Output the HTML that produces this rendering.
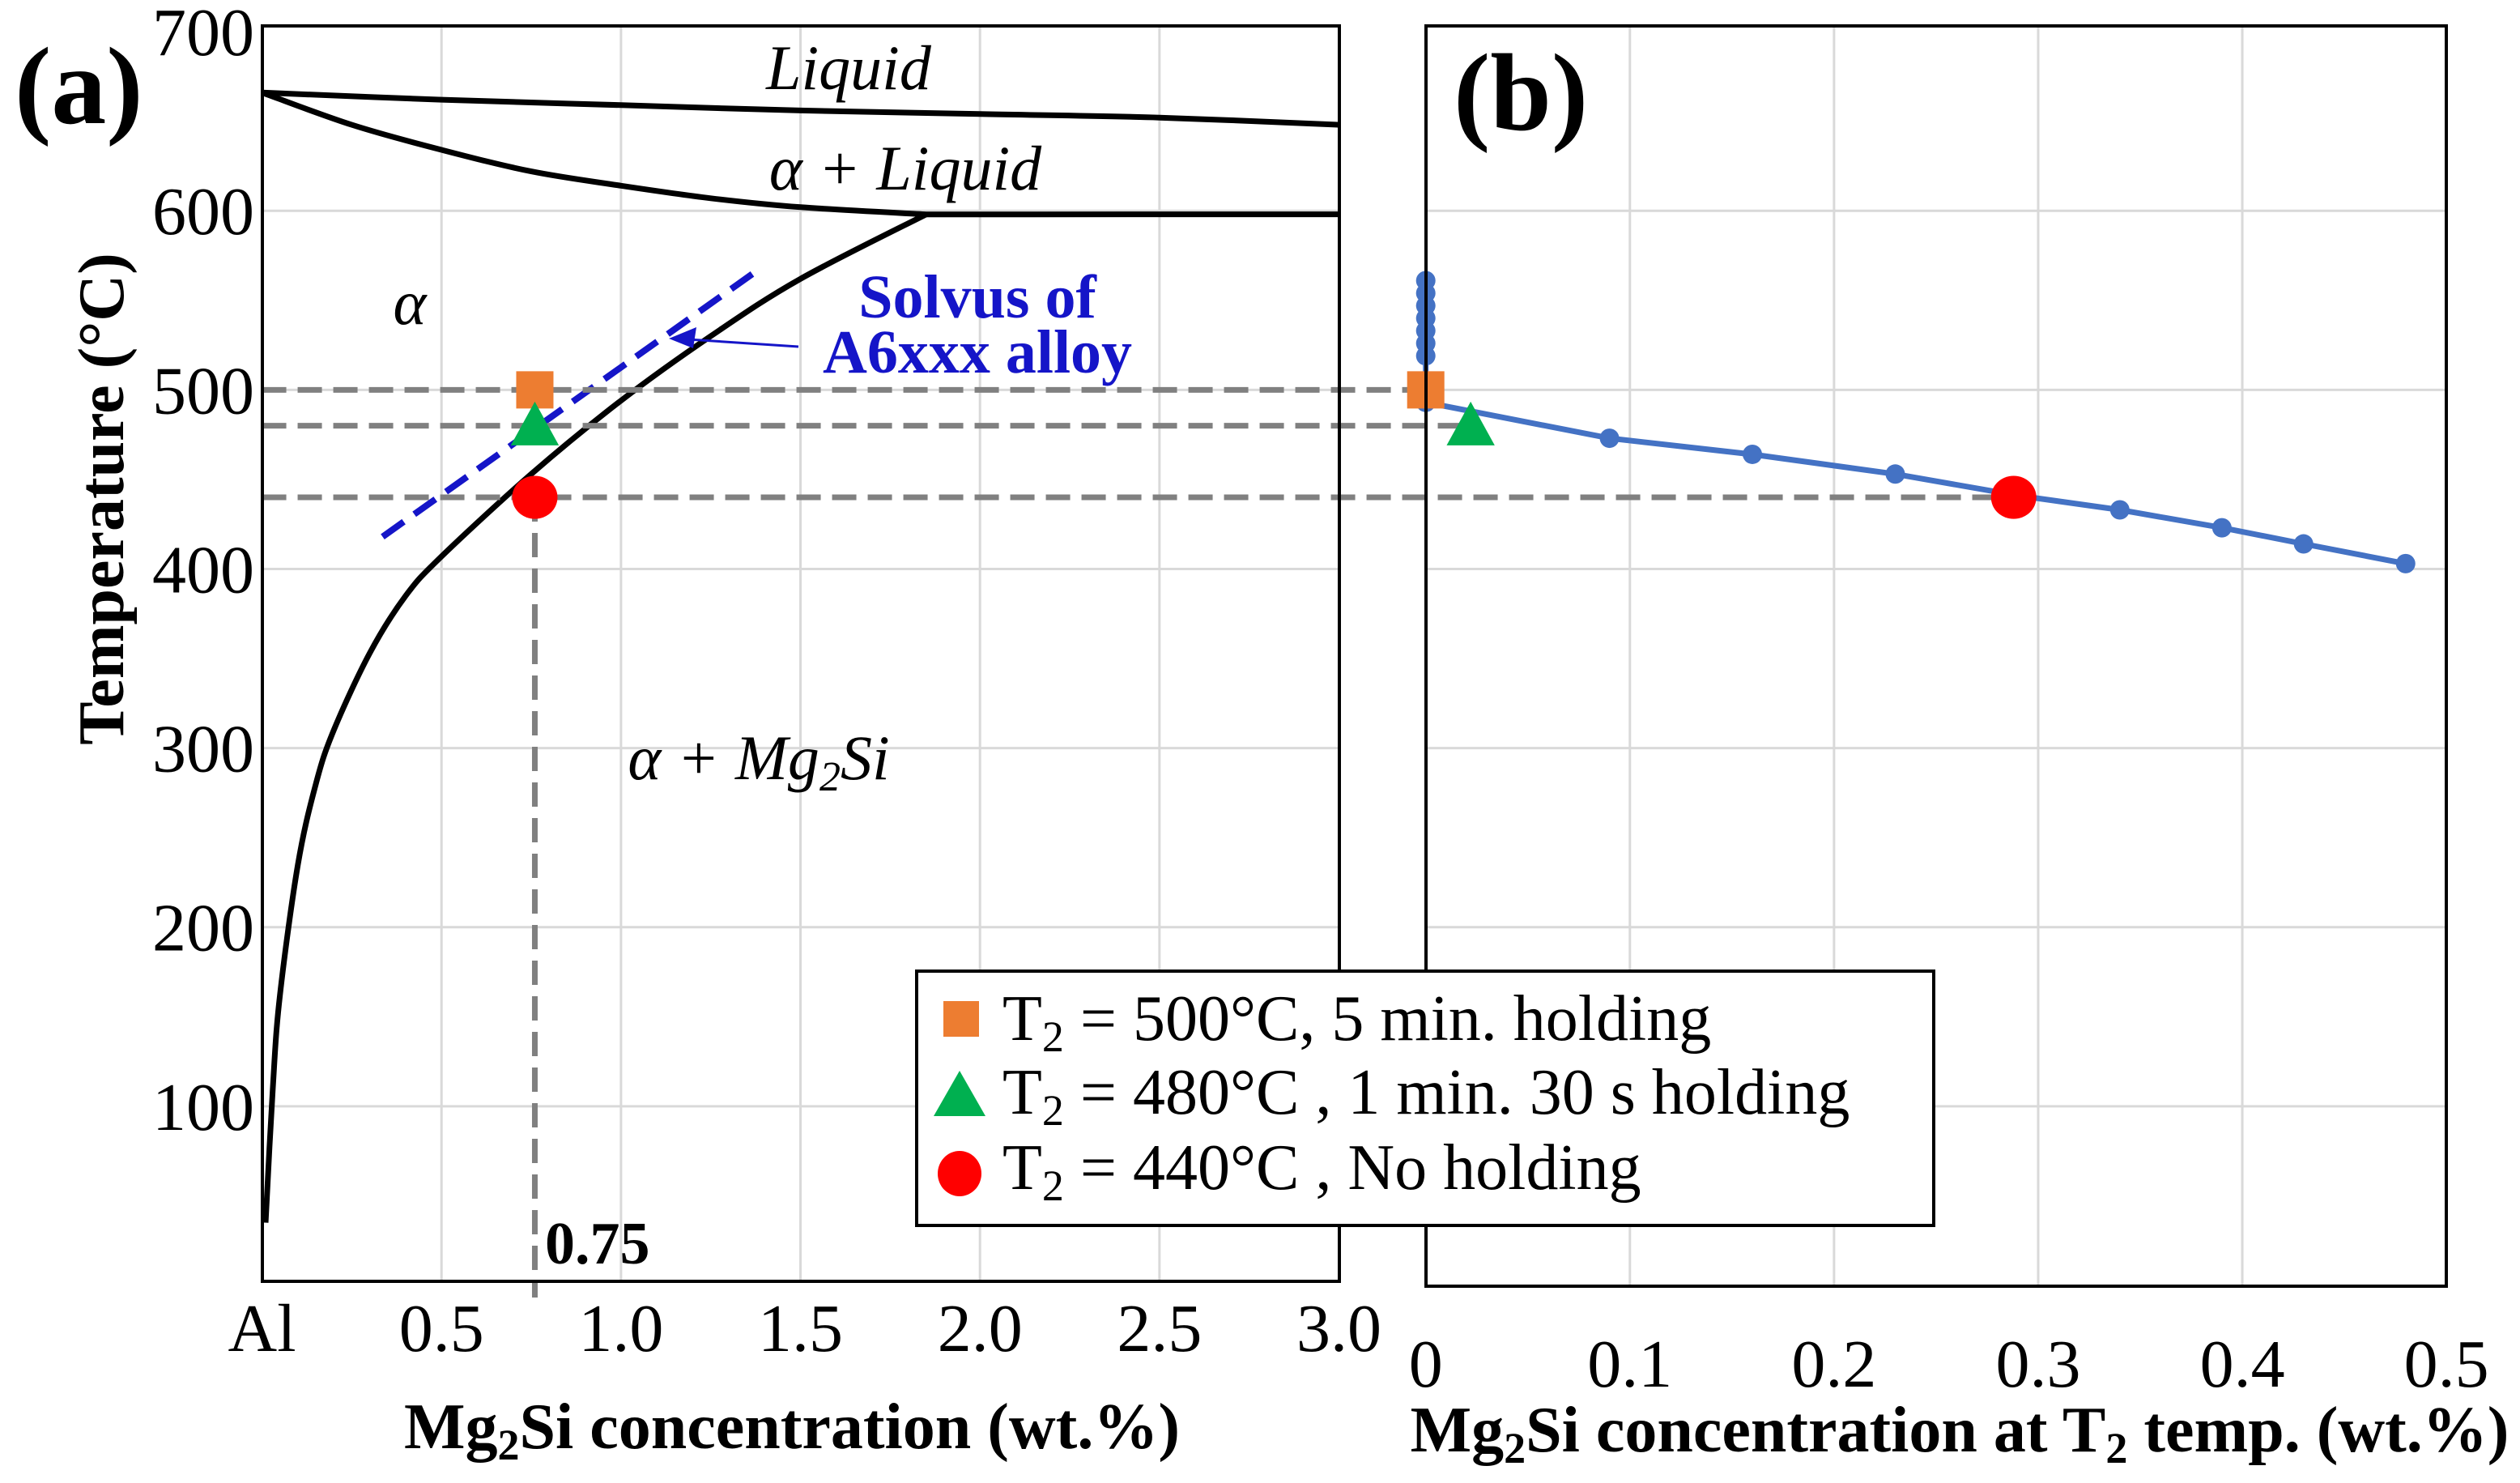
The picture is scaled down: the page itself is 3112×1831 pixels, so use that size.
<!DOCTYPE html>
<html><head><meta charset="utf-8"><style>
html,body{margin:0;padding:0;background:#fff;width:3112px;height:1831px;overflow:hidden}
svg{display:block;font-family:"Liberation Serif",serif}
</style></head><body>
<svg id="chart" width="3112" height="1831" viewBox="0 0 3112 1831" xmlns="http://www.w3.org/2000/svg">
<g id="gA"></g>
<g id="gB"></g>
<g id="gTop"></g>
</svg>
<script>
// ---- data ----
const yTicks = [100,200,300,400,500,600,700];
const aXTicks = [0,0.5,1.0,1.5,2.0,2.5,3.0];
const aXTickLabels = ["Al","0.5","1.0","1.5","2.0","2.5","3.0"];
const bXTicks = [0,0.1,0.2,0.3,0.4,0.5];
const bXTickLabels = ["0","0.1","0.2","0.3","0.4","0.5"];
const liquidusX = [0,0.5,1.0,1.5,2.0,2.5,3.0];
const liquidusT = [666,662,659,656,654,652,648];
const solidusX = [0,0.25,0.5,0.75,1.0,1.25,1.5,1.85,2.5,3.0];
const solidusT = [666,648,634,622,614,607,602,598,598,598];
const solvusX = [0.01,0.03,0.05,0.1,0.15,0.2,0.3,0.4,0.5,0.75,1.0,1.25,1.5,1.85];
const solvusT = [35,110,162,235,280,310,353,385,407,453,494,530,562,598];
const dashedX = [0.336,1.368];
const dashedT = [418,565];
const holdT = [500,480,440];
const alloyX = 0.76;
const bSeriesX = [0,0,0,0,0,0,0,0,0.09,0.16,0.23,0.29,0.34,0.39,0.43,0.48];
const bSeriesT = [561,554,547,540,533,526,519,493,473,464,453,441,433,423,414,403];
const bMarkX = [0,0.022,0.288];
// ---- scales ----
const S=1.985;
const yT = t => (799.5 - t*1.114)*S;
const aL=163*S, aR=833*S, aTop=16*S, aBot=797*S;
const bL=887*S, bR=1522*S, bBot=800*S;
const xA = v => aL + v/3.0*(aR-aL);
const xB = v => bL + v/0.5*(bR-bL);
const NS="http://www.w3.org/2000/svg";
function mk(p,tag,at,txt){const e=document.createElementNS(NS,tag);for(const k in at)e.setAttribute(k,at[k]);if(txt!==undefined)e.textContent=txt;p.appendChild(e);return e;}
const gA=document.getElementById('gA'), gB=document.getElementById('gB'), gT=document.getElementById('gTop');
let e;
aXTicks.forEach((v,i)=>{ if(i>0&&i<aXTicks.length-1){e=mk(gA,'line',{x1:xA(v),x2:xA(v),y1:aTop,y2:aBot,stroke:'#d9d9d9','stroke-width':3});

}
 e=mk(gA,'text',{x:xA(v),y:1668,'font-size':84,'text-anchor':'middle'},aXTickLabels[i]);
 
 });
yTicks.forEach(t=>{ if(t<700){e=mk(gA,'line',{x1:aL,x2:aR,y1:yT(t),y2:yT(t),stroke:'#d9d9d9','stroke-width':3});


e=mk(gB,'line',{x1:bL,x2:bR,y1:yT(t),y2:yT(t),stroke:'#d9d9d9','stroke-width':3});

}
 e=mk(gA,'text',{x:314,y:yT(t)+29,'font-size':84,'text-anchor':'end'},String(t));
 
 });
bXTicks.forEach((v,i)=>{ if(i>0&&i<bXTicks.length-1){e=mk(gB,'line',{x1:xB(v),x2:xB(v),y1:aTop,y2:bBot,stroke:'#d9d9d9','stroke-width':3});

}
 e=mk(gB,'text',{x:xB(v),y:1712,'font-size':84,'text-anchor':'middle'},bXTickLabels[i]);
 
 });
function path(xs,ts,fx){return xs.map((x,i)=>(i?'L':'M')+fx(x).toFixed(1)+','+yT(ts[i]).toFixed(1)).join(' ');}
function smooth(xs,ts,fx){
 const p=xs.map((x,i)=>[fx(x),yT(ts[i])]);
 let d='M'+p[0][0].toFixed(1)+','+p[0][1].toFixed(1);
 for(let i=0;i<p.length-1;i++){
  const p0=p[i-1]||p[i],p1=p[i],p2=p[i+1],p3=p[i+2]||p2;
  const c1=[p1[0]+(p2[0]-p0[0])/6,p1[1]+(p2[1]-p0[1])/6];
  const c2=[p2[0]-(p3[0]-p1[0])/6,p2[1]-(p3[1]-p1[1])/6];
  d+=` C${c1[0].toFixed(1)},${c1[1].toFixed(1)} ${c2[0].toFixed(1)},${c2[1].toFixed(1)} ${p2[0].toFixed(1)},${p2[1].toFixed(1)}`;
 }
 return d;
}
e=mk(gA,'path',{d:smooth(liquidusX,liquidusT,xA),fill:'none',stroke:'#000','stroke-width':7});


e=mk(gA,'path',{d:smooth(solidusX.slice(0,8),solidusT.slice(0,8),xA)+' L'+xA(solidusX[9])+','+yT(solidusT[9]),fill:'none',stroke:'#000','stroke-width':7});


e=mk(gA,'path',{d:smooth(solvusX,solvusT,xA),fill:'none',stroke:'#000','stroke-width':7,'stroke-linejoin':'round'});


e=mk(gA,'path',{d:path(dashedX,dashedT,xA),fill:'none',stroke:'#1515c8','stroke-width':8,'stroke-dasharray':'32 16'});


const hEnd=[xB(bMarkX[0]),xB(bMarkX[1]),xB(bMarkX[2])];
holdT.forEach((t,i)=>{e=mk(gT,'line',{x1:aL,x2:hEnd[i],y1:yT(t),y2:yT(t),stroke:'#808080','stroke-width':7,'stroke-dasharray':'30 14'});

});
e=mk(gT,'line',{x1:xA(alloyX),x2:xA(alloyX),y1:yT(holdT[2]),y2:aBot+20,stroke:'#808080','stroke-width':7,'stroke-dasharray':'30 14'});


e=mk(gT,'line',{x1:986,y1:428,x2:835,y2:418,stroke:'#1515c8','stroke-width':3});


e=mk(gT,'path',{d:'M826,418 L860,404 L856,430 Z',fill:'#1515c8'});


e=mk(gB,'path',{d:path(bSeriesX.slice(7),bSeriesT.slice(7),xB),fill:'none',stroke:'#4472c4','stroke-width':7});


e=mk(gB,'path',{d:path(bSeriesX.slice(0,8),bSeriesT.slice(0,8),xB),fill:'none',stroke:'#4472c4','stroke-width':7});


bSeriesX.forEach((x,i)=>{e=mk(gB,'circle',{cx:xB(x),cy:yT(bSeriesT[i]),r:12,fill:'#4472c4'});

});
function square(g,cx,cy,s){return mk(g,'rect',{x:cx-s/2,y:cy-s/2,width:s,height:s,fill:'#ed7d31'});}
function tri(g,cx,cy,s){return mk(g,'path',{d:`M${cx},${cy-s*0.55} L${cx+s*0.55},${cy+s*0.45} L${cx-s*0.55},${cy+s*0.45} Z`,fill:'#00b050'});}
function circ(g,cx,cy,r){return mk(g,'ellipse',{cx:cx,cy:cy,rx:r,ry:r*0.95,fill:'#ff0000'});}
e=square(gT,xA(alloyX),yT(holdT[0]),46);


e=tri(gT,xA(alloyX),yT(holdT[1]),54);


e=circ(gT,xA(alloyX),yT(holdT[2]),28);


e=square(gT,xB(bMarkX[0]),yT(holdT[0]),46);


e=tri(gT,xB(bMarkX[1]),yT(holdT[1]),54);


e=circ(gT,xB(bMarkX[2]),yT(holdT[2]),28);


</script>
<svg style="position:absolute;left:0;top:0" width="3112" height="1831" viewBox="0 0 3112 1831" xmlns="http://www.w3.org/2000/svg" font-family="Liberation Serif, serif">
 <rect x="324" y="32" width="1330" height="1550" fill="none" stroke="#000" stroke-width="4"/>
 <rect x="1761" y="32" width="1260" height="1556" fill="none" stroke="#000" stroke-width="4"/>
 <text x="18" y="152" font-size="136" font-weight="bold">(a)</text>
 <text x="1795" y="160" font-size="136" font-weight="bold">(b)</text>
 <text x="1048" y="110" font-size="78" font-style="italic" text-anchor="middle">Liquid</text>
 <text x="1118" y="234" font-size="78" font-style="italic" text-anchor="middle">α + Liquid</text>
 <text x="506" y="400" font-size="78" font-style="italic" text-anchor="middle">α</text>
 <text x="1207" y="392" font-size="76" font-weight="bold" fill="#1515c8" text-anchor="middle">Solvus  of</text>
 <text x="1207" y="460" font-size="76" font-weight="bold" fill="#1515c8" text-anchor="middle">A6xxx alloy</text>
 <text x="937" y="962" font-size="78" font-style="italic" text-anchor="middle">α + Mg<tspan font-size="52" dy="14">2</tspan><tspan dy="-14">Si</tspan></text>
 <text x="673" y="1560" font-size="74" font-weight="bold">0.75</text>
 <text transform="translate(152,616) rotate(-90)" font-size="80" font-weight="bold" text-anchor="middle">Temperature (°C)</text>
 <text x="978" y="1788" font-size="80" font-weight="bold" text-anchor="middle">Mg<tspan font-size="54" dy="14">2</tspan><tspan dy="-14">Si concentration (wt.%)</tspan></text>
 <text x="2420" y="1792" font-size="80" font-weight="bold" text-anchor="middle">Mg<tspan font-size="54" dy="14">2</tspan><tspan dy="-14">Si concentration at T</tspan><tspan font-size="54" dy="14">2</tspan><tspan dy="-14"> temp. (wt.%)</tspan></text>
 <g>
  <rect x="1132" y="1199" width="1256" height="314" fill="#fff" stroke="#000" stroke-width="4"/>
  <rect x="1165" y="1236" width="44" height="44" fill="#ed7d31"/>
  <path d="M1185,1322 L1217,1378 L1153,1378 Z" fill="#00b050"/>
  <ellipse cx="1185" cy="1449" rx="27" ry="28" fill="#ff0000"/>
  <text x="1238" y="1284" font-size="80">T<tspan font-size="54" dy="14">2</tspan><tspan dy="-14"> = 500°C, 5 min. holding</tspan></text>
  <text x="1238" y="1375" font-size="80">T<tspan font-size="54" dy="14">2</tspan><tspan dy="-14"> = 480°C , 1 min. 30 s holding</tspan></text>
  <text x="1238" y="1468" font-size="80">T<tspan font-size="54" dy="14">2</tspan><tspan dy="-14"> = 440°C , No holding</tspan></text>
 </g>
</svg>
</body></html>
